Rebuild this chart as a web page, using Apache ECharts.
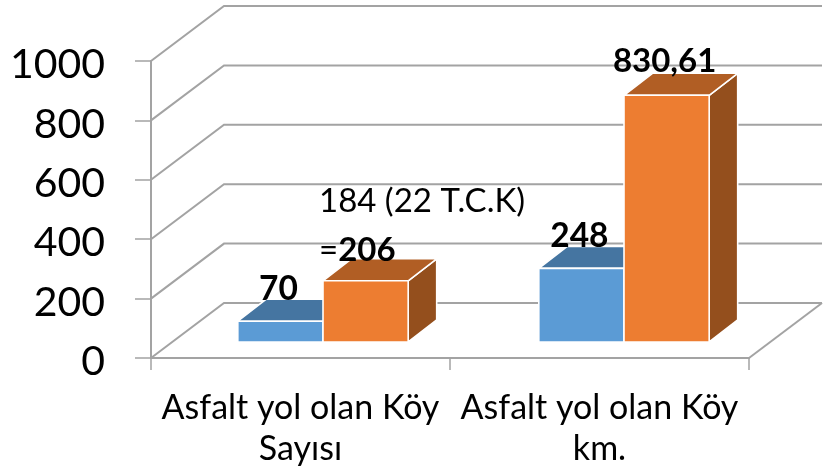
<!DOCTYPE html>
<html><head><meta charset="utf-8">
<style>html,body{margin:0;padding:0;background:#fff}#c{width:823px;height:472px}</style>
<script src="https://cdn.jsdelivr.net/npm/echarts@6/dist/echarts.min.js"></script>
</head><body><div id="c"></div>
<script>
const categories = ['Asfalt yol olan Köy\nSayısı', 'Asfalt yol olan Köy\nkm.'];
const yTicks = [0, 200, 400, 600, 800, 1000];
const seriesBlue = [70, 248];
const seriesOrange = [206, 830.61];
const labelsBlue = ['70', '248'];
const labelsOrange = ['{r|184 (22 T.C.K)}\n{r|=}{b|206}', '{b|830,61}'];

const FONT = 'Lato, Carlito, sans-serif';
const LINE = '#A3A3A3';
const WALL_DX = 73, WALL_DY = -55, BAR_DX = 28.5, BAR_DY = -22, BAR_W = 0.283;

function wall(params, api) {
  const cs = params.coordSys;
  const p = api.coord([0, api.value(0)]);
  const y = p[1], l = cs.x, r = cs.x + cs.width;
  const style = { stroke: LINE, lineWidth: 2, fill: null };
  const kids = [{ type: 'polyline', shape: { points: [[l, y], [l + WALL_DX, y + WALL_DY], [r + WALL_DX, y + WALL_DY]] }, style }];
  if (api.value(0) === 0) kids.push({ type: 'line', shape: { x1: r, y1: y, x2: r + WALL_DX, y2: y + WALL_DY }, style });
  return { type: 'group', children: kids };
}

function barRenderer(side, front, topC, sideC, textFn) {
  return function (params, api) {
    const cat = api.value(0), val = api.value(1);
    const b = api.coord([cat, 0]), t = api.coord([cat, val]);
    const w = api.size([1, 0])[0] * BAR_W;
    const x0 = side < 0 ? b[0] - w : b[0], x1 = x0 + w;
    const stroke = { stroke: '#fff', lineWidth: 1.6, lineJoin: 'round' };
    const poly = (points, fill) => ({ type: 'polygon', shape: { points }, style: Object.assign({ fill }, stroke) });
    return { type: 'group', children: [
      poly([[x1, t[1]], [x1 + BAR_DX, t[1] + BAR_DY], [x1 + BAR_DX, b[1] + BAR_DY], [x1, b[1]]], sideC),
      poly([[x0, t[1]], [x0 + BAR_DX, t[1] + BAR_DY], [x1 + BAR_DX, t[1] + BAR_DY], [x1, t[1]]], topC),
      poly([[x0, t[1]], [x1, t[1]], [x1, b[1]], [x0, b[1]]], front),
      textFn(params.dataIndex, x0, x1, t[1])
    ] };
  };
}

function blueText(i, x0, x1, y) {
  return { type: 'text', z2: 20, style: { text: labelsBlue[i], x: (x0 + x1) / 2 - 2, y: y - 32.5, align: 'center', verticalAlign: 'middle',
    font: 'bold 33.5px ' + FONT, fill: '#000' } };
}
function orangeText(i, x0, x1, y) {
  const single = i === 1;
  return { type: 'text', z2: 20, style: {
    text: labelsOrange[i],
    x: single ? (x0 + x1) / 2 - 2 : x0 - 4,
    y: single ? y - 34 : y - 55,
    align: single ? 'center' : 'left', verticalAlign: 'middle',
    rich: {
      r: { font: '33px ' + FONT, fill: '#000', lineHeight: 49 },
      b: { font: 'bold 33px ' + FONT, fill: '#000', lineHeight: 49 }
    } } };
}

const chart = echarts.init(document.getElementById('c'), null, { renderer: 'canvas' });
chart.setOption({
  animation: false,
  backgroundColor: '#fff',
  grid: [
    { left: 151, right: 74, top: 61, bottom: 114, outerBoundsMode: 'none' },
    { left: 172.5, width: 602, top: 45, height: 297, outerBoundsMode: 'none' },
    { left: 151, right: 74, top: 65, bottom: 110, outerBoundsMode: 'none' }
  ],
  xAxis: [
    { type: 'category', gridIndex: 0, data: categories,
      axisLine: { show: true, lineStyle: { color: LINE, width: 2 } },
      axisTick: { show: true, length: 12, lineStyle: { color: LINE, width: 1.5 } },
      axisLabel: { color: '#000', fontFamily: FONT, fontSize: 34, lineHeight: 41, margin: 30, interval: 0 } },
    { type: 'category', gridIndex: 1, data: categories, show: false },
    { type: 'category', gridIndex: 2, data: categories, show: false }
  ],
  yAxis: [
    { type: 'value', gridIndex: 0, min: 0, max: 1000, interval: 200,
      axisLine: { show: true, lineStyle: { color: LINE, width: 2 } },
      axisTick: { show: true, length: 16, lineStyle: { color: LINE, width: 1.5 } },
      splitLine: { show: false },
      axisLabel: { show: false } },
    { type: 'value', gridIndex: 1, min: 0, max: 1000, show: false, splitLine: { show: false } },
    { type: 'value', gridIndex: 2, min: 0, max: 1000, interval: 200,
      axisLine: { show: false }, axisTick: { show: false }, splitLine: { show: false },
      axisLabel: { color: '#000', fontFamily: FONT, fontSize: 41, margin: 46, formatter: v => String(v) } }
  ],
  series: [
    { type: 'custom', xAxisIndex: 0, yAxisIndex: 0, renderItem: wall, data: yTicks.map(v => [v]), encode: { y: 0 }, clip: false, silent: true, z: 1 },
    { type: 'custom', xAxisIndex: 1, yAxisIndex: 1, data: categories.map((c, i) => [i, seriesBlue[i]]), encode: { x: 0, y: 1 }, clip: false, z: 3,
      renderItem: barRenderer(-1, '#5B9BD5', '#4575A1', '#3C6690', blueText) },
    { type: 'custom', xAxisIndex: 1, yAxisIndex: 1, data: categories.map((c, i) => [i, seriesOrange[i]]), encode: { x: 0, y: 1 }, clip: false, z: 4,
      renderItem: barRenderer(1, '#ED7D31', '#B15E24', '#944F1D', orangeText) }
  ]
});
</script></body></html>
